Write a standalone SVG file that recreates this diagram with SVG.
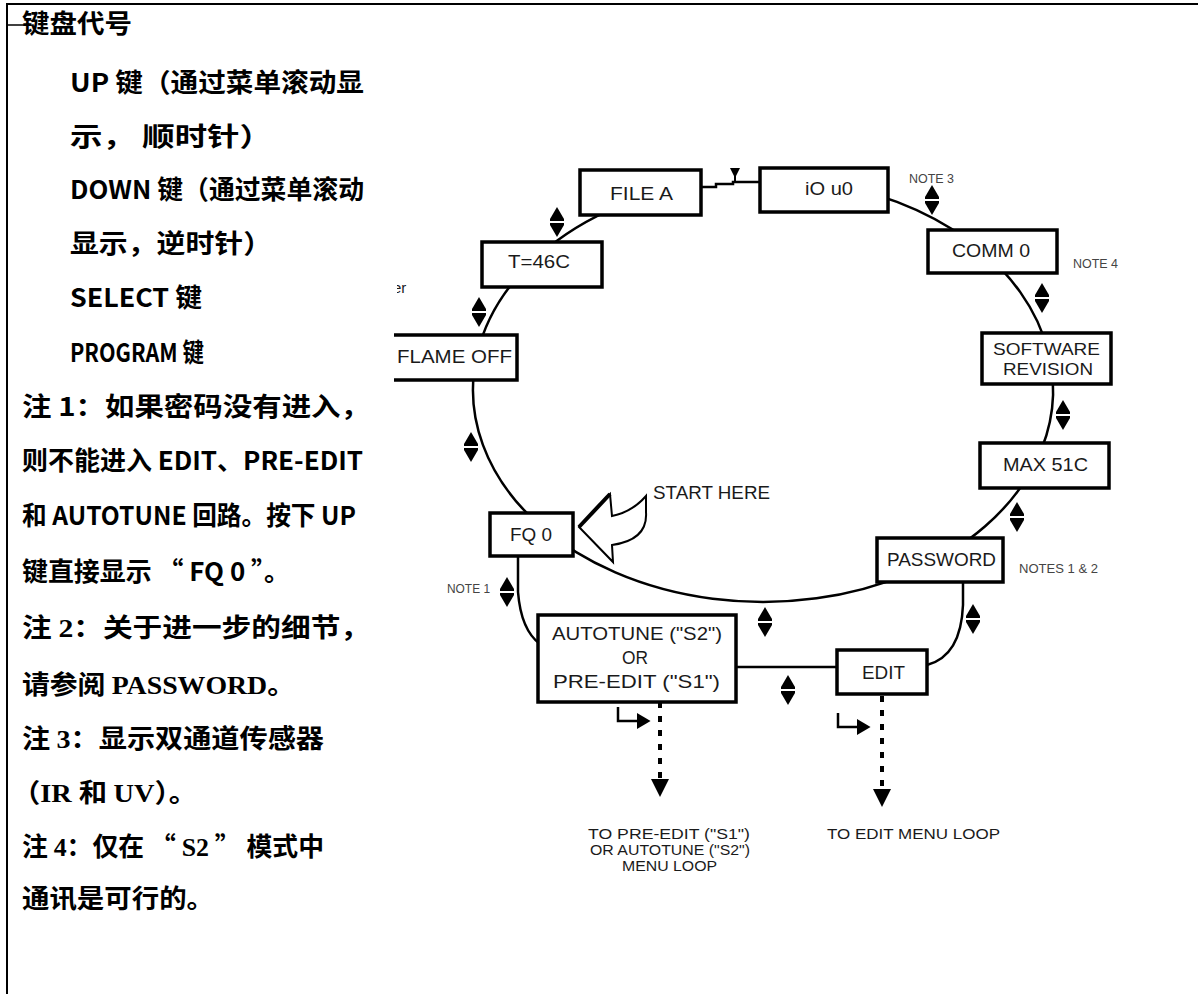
<svg xmlns="http://www.w3.org/2000/svg" width="1198" height="994" viewBox="0 0 1198 994">
<style>
.frame{stroke:#000;stroke-width:2;fill:none}
.cn{font-family:"Noto Sans CJK SC","Noto Sans",sans-serif;font-weight:bold;font-size:26px;fill:#000}
.tm{font-family:"Liberation Serif","Noto Sans CJK SC",serif;font-weight:bold}
.box{fill:#fff;stroke:#000;stroke-width:3.5}
.lbl{font-family:"Liberation Sans Narrow","Liberation Sans",Arial,sans-serif;font-size:19px;fill:#1a1a1a}
.lbl2{font-family:"Liberation Sans Narrow","Liberation Sans",Arial,sans-serif;font-size:17px;fill:#1a1a1a}
.sm{font-family:"Liberation Sans Narrow","Liberation Sans",Arial,sans-serif;font-size:15px;fill:#1a1a1a}
.note{font-family:"Liberation Sans Narrow","Liberation Sans",Arial,sans-serif;font-size:12px;fill:#444}
.conn{fill:none;stroke:#000;stroke-width:2.5}
.dot{fill:none;stroke:#000;stroke-width:4;stroke-dasharray:6 8}
</style>
<defs>
<g id="dbl">
<path d="M0,-15 L7,-3 L7,-1 L-7,-1 L-7,-3 Z" fill="#000"/>
<path d="M-7,1 L7,1 L7,3 L0,15 L-7,3 Z" fill="#000"/>
</g>
<marker id="ahDown" markerUnits="userSpaceOnUse" markerWidth="18" markerHeight="20" viewBox="0 -9 18 18" refX="16" refY="0" orient="auto">
<path d="M0,-9 L18,0 L0,9 Z" fill="#000"/>
</marker>
<marker id="ahRight" markerUnits="userSpaceOnUse" markerWidth="14" markerHeight="16" viewBox="0 -7 12 14" refX="1" refY="0" orient="auto">
<path d="M0,-7 L12,0 L0,7 Z" fill="#000"/>
</marker>
<clipPath id="cut"><rect x="397" y="270" width="20" height="30"/></clipPath>
</defs>

<g id="frame">
<line class="frame" x1="6" y1="4" x2="1198" y2="4"/>
<line class="frame" x1="7" y1="3" x2="7" y2="994"/>
<line x1="7" y1="25" x2="24" y2="25" stroke="#000" stroke-width="1.5"/>
</g>

<g id="legend">
<text class="cn" x="22" y="33" textLength="110" lengthAdjust="spacingAndGlyphs">键盘代号</text>
<text class="cn" x="70" y="92" textLength="294" lengthAdjust="spacingAndGlyphs">UP 键（通过菜单滚动显</text>
<text class="cn" x="70" y="146" textLength="202" lengthAdjust="spacingAndGlyphs">示， 顺时针）</text>
<text class="cn" x="70" y="199" textLength="294" lengthAdjust="spacingAndGlyphs">DOWN 键（通过菜单滚动</text>
<text class="cn" x="70" y="253" textLength="202" lengthAdjust="spacingAndGlyphs">显示，逆时针）</text>
<text class="cn" x="70" y="307" textLength="132" lengthAdjust="spacingAndGlyphs">SELECT 键</text>
<text class="cn" x="70" y="362" textLength="134" lengthAdjust="spacingAndGlyphs">PROGRAM 键</text>
<text class="cn" x="22" y="416" textLength="348" lengthAdjust="spacingAndGlyphs">注 1：如果密码没有进入，</text>
<text class="cn" x="22" y="470" textLength="341" lengthAdjust="spacingAndGlyphs">则不能进入 EDIT、PRE-EDIT</text>
<text class="cn" x="22" y="525" textLength="334" lengthAdjust="spacingAndGlyphs">和 AUTOTUNE 回路。按下 UP</text>
<text class="cn" x="22" y="581" textLength="268" lengthAdjust="spacingAndGlyphs">键直接显示 “ FQ 0 ”。</text>
<text class="cn" x="22" y="637" textLength="348" lengthAdjust="spacingAndGlyphs">注 <tspan class="tm">2</tspan>：关于进一步的细节，</text>
<text class="cn" x="22" y="694" textLength="273" lengthAdjust="spacingAndGlyphs">请参阅 <tspan class="tm">PASSWORD</tspan>。</text>
<text class="cn" x="22" y="748" textLength="302" lengthAdjust="spacingAndGlyphs">注 <tspan class="tm">3</tspan>：显示双通道传感器</text>
<text class="cn" x="12" y="802" textLength="185" lengthAdjust="spacingAndGlyphs">（<tspan class="tm">IR </tspan>和 <tspan class="tm">UV</tspan>）。</text>
<text class="cn" x="22" y="856" textLength="302" lengthAdjust="spacingAndGlyphs">注 <tspan class="tm">4</tspan>：仅在 “ <tspan class="tm">S2</tspan> ” 模式中</text>
<text class="cn" x="22" y="908" textLength="192" lengthAdjust="spacingAndGlyphs">通讯是可行的。</text>
</g>

<g id="connectors">
<path class="conn" d="M477.4,353.2 A290,212 0 0 1 540.9,253.7"/>
<path class="conn" d="M540.9,253.7 A290,212 0 0 1 618,206.4"/>
<path class="conn" d="M700,187 H716 V184 H733 V182 H762"/>
<path class="conn" d="M813.4,181.2 A290,212 0 0 1 968.1,240.1"/>
<path class="conn" d="M968.1,240.1 A290,212 0 0 1 1048.6,353.2"/>
<path class="conn" d="M1048.6,353.2 A290,212 0 0 1 1035.5,462.5"/>
<path class="conn" d="M1035.5,462.5 A290,212 0 0 1 908,573.6"/>
<path class="conn" d="M908,573.6 A290,212 0 0 1 540.9,526.3"/>
<path class="conn" d="M540.9,526.3 A290,212 0 0 1 477.4,353.2"/>
<path class="conn" d="M518,556 L518,592 Q521,630 540,644"/>
<path class="conn" d="M963,582 L963,605 Q961,656 927,665"/>
<path class="conn" d="M736,667 H837"/>
<path d="M730,168 L740,168 L735,178 Z" fill="#000"/>
<line x1="735" y1="176" x2="735" y2="183" stroke="#000" stroke-width="2"/>
<path class="dot" d="M660,688 V795" marker-end="url(#ahDown)"/>
<path class="dot" d="M882,696 V805" marker-end="url(#ahDown)"/>
<path class="conn" d="M618,707 V721 H638" marker-end="url(#ahRight)"/>
<path class="conn" d="M838,713 V727 H858" marker-end="url(#ahRight)"/>
<use href="#dbl" transform="translate(557,222)"/>
<use href="#dbl" transform="translate(479,312)"/>
<use href="#dbl" transform="translate(471,447)"/>
<use href="#dbl" transform="translate(932,200)"/>
<use href="#dbl" transform="translate(1042,298)"/>
<use href="#dbl" transform="translate(1063,415)"/>
<use href="#dbl" transform="translate(1017,517)"/>
<use href="#dbl" transform="translate(973,619)"/>
<use href="#dbl" transform="translate(765,622)"/>
<use href="#dbl" transform="translate(788,690)"/>
<use href="#dbl" transform="translate(507,592)"/>
</g>

<g id="n_fileA"><rect class="box" x="580" y="170" width="121" height="45"/><text class="lbl" x="610" y="200" textLength="63" lengthAdjust="spacingAndGlyphs">FILE  A</text></g>
<g id="n_t46"><rect class="box" x="482" y="242" width="120" height="45"/><text class="lbl" x="508" y="268" textLength="62" lengthAdjust="spacingAndGlyphs">T=46C</text></g>
<g id="n_flame"><rect x="394" y="335" width="123" height="45" fill="#fff"/><path d="M394,335 H517 V380 H394" fill="none" stroke="#000" stroke-width="3.5"/><text class="lbl" x="397" y="363" textLength="115" lengthAdjust="spacingAndGlyphs">FLAME OFF</text></g>
<g id="n_fq0"><rect class="box" x="490" y="513" width="83" height="43"/><text class="lbl" x="510" y="541" textLength="42" lengthAdjust="spacingAndGlyphs">FQ 0</text></g>
<g id="n_autotune"><rect class="box" x="538" y="615" width="198" height="87"/>
<text class="lbl" x="552" y="640" textLength="170" lengthAdjust="spacingAndGlyphs">AUTOTUNE ("S2")</text>
<text class="lbl" x="622" y="664" textLength="26" lengthAdjust="spacingAndGlyphs">OR</text>
<text class="lbl" x="553" y="688" textLength="167" lengthAdjust="spacingAndGlyphs">PRE-EDIT ("S1")</text></g>
<g id="n_edit"><rect class="box" x="837" y="650" width="90" height="44"/><text class="lbl" x="862" y="679" textLength="43" lengthAdjust="spacingAndGlyphs">EDIT</text></g>
<g id="n_password"><rect class="box" x="877" y="538" width="126" height="44"/><text class="lbl" x="887" y="566" textLength="109" lengthAdjust="spacingAndGlyphs">PASSWORD</text></g>
<g id="n_max"><rect class="box" x="980" y="443" width="129" height="45"/><text class="lbl" x="1003" y="471" textLength="85" lengthAdjust="spacingAndGlyphs">MAX 51C</text></g>
<g id="n_software"><rect class="box" x="982" y="333" width="129" height="51"/>
<text class="lbl2" x="993" y="355" textLength="107" lengthAdjust="spacingAndGlyphs">SOFTWARE</text>
<text class="lbl2" x="1003" y="375" textLength="90" lengthAdjust="spacingAndGlyphs">REVISION</text></g>
<g id="n_comm"><rect class="box" x="928" y="230" width="129" height="43"/><text class="lbl" x="952" y="257" textLength="78" lengthAdjust="spacingAndGlyphs">COMM 0</text></g>
<g id="n_io"><rect class="box" x="760" y="168" width="128" height="44"/><text class="lbl" x="805" y="195" textLength="48" lengthAdjust="spacingAndGlyphs">iO u0</text></g>

<g id="start_here">
<path d="M579,527 L610,494 L612,516 Q632,512 646,496 L646,512 Q648,540 612,545 L613,562 Z" fill="#fff" stroke="#000" stroke-width="2"/>
<path d="M579,527 L610,494" stroke="#000" stroke-width="4" fill="none"/>
<text class="lbl" x="653" y="499" textLength="117" lengthAdjust="spacingAndGlyphs">START HERE</text>
</g>

<g id="notes">
<text class="note" x="909" y="183" textLength="45" lengthAdjust="spacingAndGlyphs">NOTE 3</text>
<text class="note" x="1073" y="268" textLength="45" lengthAdjust="spacingAndGlyphs">NOTE 4</text>
<text class="note" x="1019" y="573" textLength="79" lengthAdjust="spacingAndGlyphs">NOTES 1 &amp; 2</text>
<text class="note" x="447" y="593" textLength="43" lengthAdjust="spacingAndGlyphs">NOTE 1</text>
<text class="sm" x="588" y="839" textLength="162" lengthAdjust="spacingAndGlyphs">TO PRE-EDIT ("S1")</text>
<text class="sm" x="590" y="855" textLength="160" lengthAdjust="spacingAndGlyphs">OR AUTOTUNE ("S2")</text>
<text class="sm" x="622" y="871" textLength="95" lengthAdjust="spacingAndGlyphs">MENU LOOP</text>
<text class="sm" x="827" y="839" textLength="173" lengthAdjust="spacingAndGlyphs">TO EDIT MENU LOOP</text>
<text class="sm" x="393" y="293" clip-path="url(#cut)">er</text>
</g>
</svg>
